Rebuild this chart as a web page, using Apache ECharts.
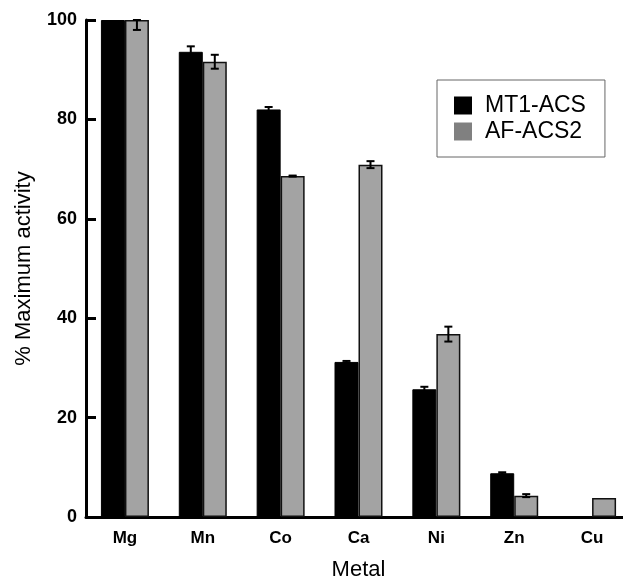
<!DOCTYPE html>
<html>
<head>
<meta charset="utf-8">
<script src="https://cdn.jsdelivr.net/npm/echarts@6/dist/echarts.min.js"></script>
<style>html,body{margin:0;padding:0;background:#fff}#c{width:623px;height:579px}</style>
</head>
<body>
<div id="c"></div>
<script>
const categories = ['Mg', 'Mn', 'Co', 'Ca', 'Ni', 'Zn', 'Cu'];
const mt1Values = [100, 93.6, 82.0, 31.2, 25.7, 8.8, 0];
const mt1Errors = [0, 1.1, 0.5, 0.2, 0.5, 0.2, 0];
const afValues = [100, 91.6, 68.6, 70.9, 36.8, 4.3, 3.8];
const afErrors = [2, 1.4, 0.1, 0.7, 1.5, 0.3, 0];
const yTicks = [0, 20, 40, 60, 80, 100];

const FONT = '"Liberation Sans", Arial, Helvetica, sans-serif';
const BAR_W = 24;

function errSeries(values, errors, offset) {
  return {
    type: 'custom',
    z: 10,
    silent: true,
    clip: false,
    data: values.map((v, i) => [i, v, errors[i]]),
    renderItem: function (params, api) {
      const i = api.value(0), v = api.value(1), e = api.value(2);
      if (!e) return null;
      const hi = Math.min(v + e, 100);
      const lo = v - e;
      const pHi = api.coord([i, hi]);
      const pLo = api.coord([i, lo]);
      const x = pHi[0] + offset;
      const cw = 4;
      const style = { stroke: '#000', lineWidth: 2 };
      return {
        type: 'group',
        children: [
          { type: 'line', shape: { x1: x, y1: pHi[1], x2: x, y2: pLo[1] }, style },
          { type: 'line', shape: { x1: x - cw, y1: pHi[1], x2: x + cw, y2: pHi[1] }, style },
          { type: 'line', shape: { x1: x - cw, y1: pLo[1], x2: x + cw, y2: pLo[1] }, style }
        ]
      };
    }
  };
}

const chart = echarts.init(document.getElementById('c'), null, { renderer: 'canvas' });
chart.setOption({
  animation: false,
  backgroundColor: '#fff',
  textStyle: { fontFamily: FONT },
  grid: { left: 86, right: -8, top: 20, bottom: 62, containLabel: false, outerBoundsMode: 'none' },
  legend: {
    orient: 'vertical',
    left: 437,
    top: 80,
    padding: [14, 19, 14, 17],
    backgroundColor: '#fff',
    borderColor: '#666',
    borderWidth: 1,
    icon: 'rect',
    itemWidth: 18,
    itemHeight: 18,
    itemGap: 3,
    textStyle: { fontSize: 23, color: '#000', fontFamily: FONT, padding: [0, 0, 0, 8] },
    data: [
      { name: 'MT1-ACS', itemStyle: { color: '#000', borderWidth: 0 } },
      { name: 'AF-ACS2', itemStyle: { color: '#808080', borderWidth: 0 } }
    ]
  },
  xAxis: {
    type: 'category',
    data: categories,
    name: 'Metal',
    nameLocation: 'middle',
    nameGap: 42,
    nameTextStyle: { fontSize: 22, color: '#000', fontFamily: FONT },
    axisLine: { lineStyle: { color: '#000', width: 3 } },
    axisTick: { show: false },
    axisLabel: { fontSize: 17, fontWeight: 'bold', color: '#000', margin: 13, fontFamily: FONT }
  },
  yAxis: {
    type: 'value',
    min: 0,
    max: 100,
    interval: 20,
    name: '% Maximum activity',
    nameLocation: 'middle',
    nameGap: 51,
    nameTextStyle: { fontSize: 22, color: '#000', fontFamily: FONT },
    splitLine: { show: false },
    axisLine: { show: true, lineStyle: { color: '#000', width: 3 } },
    axisTick: { show: true, inside: true, length: 10, lineStyle: { color: '#000', width: 3 } },
    axisLabel: {
      fontSize: 18, fontWeight: 'bold', color: '#000', margin: 9, fontFamily: FONT,
      formatter: function (v) { return yTicks.indexOf(v) >= 0 ? String(v) : ''; }
    }
  },
  series: [
    {
      name: 'MT1-ACS', type: 'bar', data: mt1Values, barWidth: BAR_W, barGap: '0%',
      itemStyle: { color: '#000', borderColor: '#000', borderWidth: 1 }
    },
    {
      name: 'AF-ACS2', type: 'bar', data: afValues, barWidth: BAR_W, barGap: '0%',
      itemStyle: { color: '#a3a3a3', borderColor: '#111', borderWidth: 1.5 }
    },
    errSeries(mt1Values, mt1Errors, -BAR_W / 2),
    errSeries(afValues, afErrors, BAR_W / 2)
  ]
});
</script>
</body>
</html>
